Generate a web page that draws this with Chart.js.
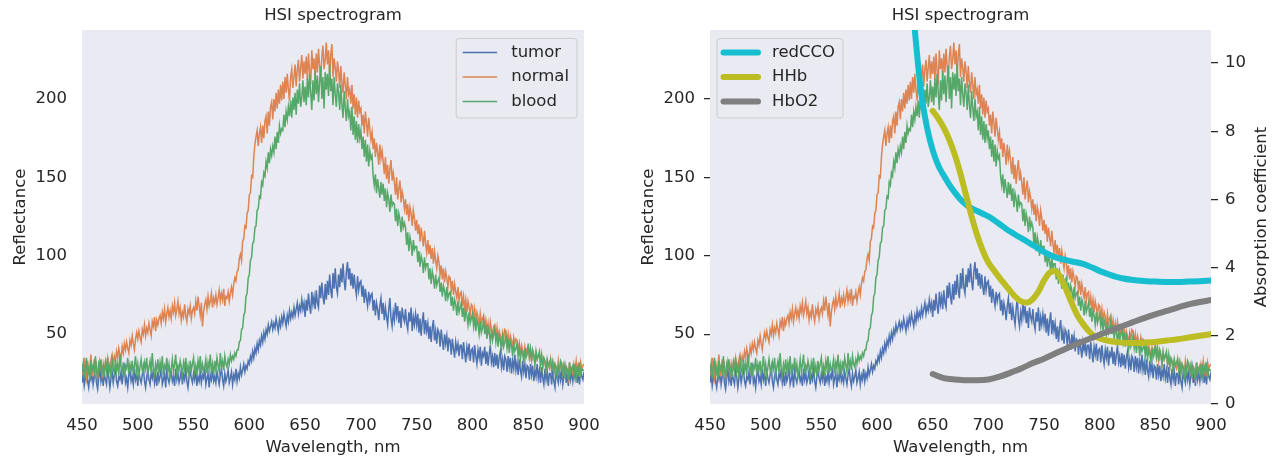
<!DOCTYPE html>
<html>
<head>
<meta charset="utf-8">
<script src="https://cdn.jsdelivr.net/npm/chart.js@4"></script>
<style>
  body { margin: 0; background: #fff; }
  canvas { position: absolute; top: 0; }
  #leftChart { left: 0; }
  #rightChart { left: 628px; }
</style>
</head>
<body>
<canvas id="leftChart" width="620" height="458"></canvas>
<canvas id="rightChart" width="645" height="458"></canvas>
<script>
// spectra sampled every 1 nm, 450..900
const wavelengths = [
  450,451,452,453,454,455,456,457,458,459, 460,461,462,463,464,465,466,467,468,469,
  470,471,472,473,474,475,476,477,478,479, 480,481,482,483,484,485,486,487,488,489,
  490,491,492,493,494,495,496,497,498,499, 500,501,502,503,504,505,506,507,508,509,
  510,511,512,513,514,515,516,517,518,519, 520,521,522,523,524,525,526,527,528,529,
  530,531,532,533,534,535,536,537,538,539, 540,541,542,543,544,545,546,547,548,549,
  550,551,552,553,554,555,556,557,558,559, 560,561,562,563,564,565,566,567,568,569,
  570,571,572,573,574,575,576,577,578,579, 580,581,582,583,584,585,586,587,588,589,
  590,591,592,593,594,595,596,597,598,599, 600,601,602,603,604,605,606,607,608,609,
  610,611,612,613,614,615,616,617,618,619, 620,621,622,623,624,625,626,627,628,629,
  630,631,632,633,634,635,636,637,638,639, 640,641,642,643,644,645,646,647,648,649,
  650,651,652,653,654,655,656,657,658,659, 660,661,662,663,664,665,666,667,668,669,
  670,671,672,673,674,675,676,677,678,679, 680,681,682,683,684,685,686,687,688,689,
  690,691,692,693,694,695,696,697,698,699, 700,701,702,703,704,705,706,707,708,709,
  710,711,712,713,714,715,716,717,718,719, 720,721,722,723,724,725,726,727,728,729,
  730,731,732,733,734,735,736,737,738,739, 740,741,742,743,744,745,746,747,748,749,
  750,751,752,753,754,755,756,757,758,759, 760,761,762,763,764,765,766,767,768,769,
  770,771,772,773,774,775,776,777,778,779, 780,781,782,783,784,785,786,787,788,789,
  790,791,792,793,794,795,796,797,798,799, 800,801,802,803,804,805,806,807,808,809,
  810,811,812,813,814,815,816,817,818,819, 820,821,822,823,824,825,826,827,828,829,
  830,831,832,833,834,835,836,837,838,839, 840,841,842,843,844,845,846,847,848,849,
  850,851,852,853,854,855,856,857,858,859, 860,861,862,863,864,865,866,867,868,869,
  870,871,872,873,874,875,876,877,878,879, 880,881,882,883,884,885,886,887,888,889,
  890,891,892,893,894,895,896,897,898,899,
  900
];

const tumor = [
  19,25,17,22,28,20,16,24,21,27, 18,23,26,19,15,22,29,20,24,17,
  25,21,18,27,23,16,22,26,19,24, 28,20,17,23,21,26,18,25,29,19,
  22,16,24,27,20,23,18,28,21,25, 17,26,22,19,24,29,20,16,23,27,
  21,18,25,22,28,19,24,17,26,20, 23,29,18,21,25,16,27,22,19,24,
  26,20,23,17,28,21,25,19,22,27, 18,24,21,29,20,16,23,26,22,19,
  25,21,28,17,23,20,26,19,24,22, 29,18,22,25,16,24,21,27,20,23,
  19,26,22,18,24,28,21,17,25,20, 23,27,19,22,26,18,24,21,28,20,
  25,22,29,24,27,31,26,30,28,33, 31,36,33,39,35,41,38,44,40,46,
  43,49,45,51,47,53,50,56,52,55, 58,53,57,54,60,56,52,59,55,61,
  57,63,59,55,62,58,65,60,64,61, 67,62,66,70,63,68,65,72,66,70,
  61,72,65,76,68,63,77,69,74,66, 78,70,67,81,73,83,74,69,82,72,
  84,75,88,78,73,89,79,92,80,76, 88,80,92,83,95,84,78,90,96,85,
  92,81,89,79,88,80,75,87,78,83, 84,74,81,70,79,73,68,77,71,75,
  76,65,72,62,70,66,59,68,73,63, 70,59,67,61,56,66,73,60,55,64,
  59,70,62,68,57,65,54,67,61,58, 66,57,53,64,58,67,52,61,56,63,
  56,63,51,60,49,58,64,50,59,52, 57,47,55,45,54,59,46,52,44,53,
  51,42,53,46,40,50,44,49,39,47, 46,37,47,41,35,45,40,44,36,43,
  43,34,45,38,32,42,37,44,33,40, 41,32,43,36,31,40,35,42,30,38,
  36,42,31,39,30,37,43,32,36,29, 38,30,37,28,35,39,29,34,27,36,
  34,26,36,29,35,25,33,28,37,27, 32,24,34,27,23,33,26,31,22,30,
  29,21,31,24,30,20,27,23,31,22, 27,19,29,22,18,28,21,26,17,25,
  25,18,27,20,16,26,22,19,28,21, 26,18,24,29,19,25,17,27,21,26,
  20,27,22,29,19,26,18,28,23,21,
  26
];

const normal = [
  31,24,35,27,22,33,26,29,37,23, 28,34,25,30,22,27,33,29,24,31,
  26,32,29,35,30,27,34,37,31,36, 33,39,35,41,37,34,42,38,44,40,
  45,41,38,46,43,49,44,40,47,51, 47,52,48,45,53,50,56,49,54,51,
  57,53,49,58,55,61,52,59,56,60, 62,57,64,60,66,58,63,67,61,65,
  60,68,64,70,62,66,71,63,67,59, 64,61,69,62,58,66,63,68,60,65,
  67,63,71,65,74,68,62,70,55,64, 69,72,66,74,68,71,76,67,73,70,
  75,69,73,78,71,76,72,79,68,74, 73,77,71,76,80,75,82,86,84,90,
  91,98,101,97,109,111,119,118,127,129, 139,140,151,150,163,171,176,180,170,178,
  182,172,183,175,186,189,178,192,183,195, 198,187,200,192,204,194,206,197,209,199,
  211,200,214,204,216,206,199,214,219,207, 214,222,208,219,225,211,220,228,213,224,
  216,227,212,229,218,209,231,219,226,214, 229,217,232,221,212,227,234,219,225,236,
  222,231,216,228,235,214,226,220,211,224, 218,207,221,210,204,217,209,200,214,203,
  206,197,209,194,203,190,201,188,199,192, 194,183,190,178,192,185,176,188,181,174,
  179,168,175,163,172,166,158,171,162,167, 160,152,163,149,158,146,155,161,148,153,
  147,139,150,136,143,148,134,141,137,130, 136,126,133,122,131,127,119,129,124,116,
  123,114,120,109,118,112,106,116,108,102, 110,101,107,98,105,95,103,97,92,100,
  96,88,94,85,92,83,90,86,80,87, 86,78,84,75,82,77,73,80,71,76,
  77,68,74,66,72,64,71,67,62,69, 68,60,66,58,64,61,55,63,57,60,
  62,54,59,52,57,50,58,53,48,55, 56,48,54,46,52,49,44,51,47,53,
  52,45,50,43,49,46,41,48,44,47, 46,39,44,37,43,40,35,42,38,41,
  42,35,40,33,39,36,31,38,34,37, 37,31,35,29,34,32,27,33,30,28,
  34,28,32,26,31,29,25,33,27,30, 31,25,30,24,29,27,22,32,26,28,
  25,31,27,33,26,30,23,32,28,30,
  31
];

const blood = [
  26,31,22,29,35,24,28,21,33,27, 30,24,36,27,22,31,28,34,25,29,
  23,32,27,35,26,30,22,33,28,25, 34,27,31,24,37,29,26,32,23,30,
  28,35,25,31,27,33,24,30,36,26, 31,23,29,34,27,25,32,28,35,24,
  29,33,26,38,28,24,31,27,34,25, 32,27,36,24,30,28,35,26,31,23,
  28,34,26,31,37,25,30,27,33,29, 24,32,28,35,26,30,23,33,27,31,
  35,26,30,24,33,28,36,25,31,27, 29,34,25,32,28,37,26,31,24,33,
  27,35,30,26,38,29,33,27,36,31, 29,34,31,37,33,36,34,38,36,40,
  40,45,46,53,54,62,64,74,76,86, 88,97,99,108,109,118,119,129,130,138,
  137,147,145,153,151,160,156,166,159,168, 164,170,166,176,168,179,172,183,178,181,
  180,190,182,192,187,195,189,199,188,201, 193,204,190,206,197,210,195,201,212,198,
  208,196,213,201,216,204,193,212,199,218, 203,215,198,211,221,200,214,194,217,206,
  216,202,222,205,213,196,214,203,195,210, 204,193,209,196,188,205,194,186,200,189,
  192,180,195,177,189,174,186,172,184,175, 180,168,176,163,174,160,171,157,167,162,
  164,151,145,152,140,149,143,137,147,139, 146,135,143,131,140,136,128,139,132,134,
  133,122,130,119,127,123,115,125,118,121, 118,107,115,103,112,108,100,110,104,106,
  106,96,103,93,100,97,89,99,92,95, 95,85,92,82,90,86,79,88,81,84,
  86,77,83,74,81,78,71,80,73,76, 77,68,74,65,72,69,62,71,64,67,
  70,61,67,58,65,62,56,64,57,60, 63,55,61,52,59,56,50,58,51,54,
  59,50,56,47,54,51,45,53,46,50, 53,45,51,42,49,46,40,48,42,45,
  49,41,47,38,45,43,36,44,39,41, 44,36,42,34,40,38,32,41,35,37,
  44,36,41,33,40,37,31,39,34,36, 39,31,37,29,35,33,27,34,30,32,
  34,27,32,25,31,29,23,30,26,33, 31,25,30,22,29,27,21,32,25,28,
  30,24,31,23,29,26,32,22,28,27,
  27
];

// absorption spectra (right axis)
const redCcoWl = [625,630,635,640,645,650,655,660,665,670,675,680,685,690,695,700,705,710,715,720,
  725,730,735,740,745,750,755,760,765,770,775,780,785,790,795,800,805,810,815,820,830,840,850,860,870,880,890,900];
const redCco = [15.2,12.6,10.6,9.05,8.1,7.45,7.0,6.7,6.43,6.2,6.0,5.85,5.74,5.66,5.58,5.5,5.4,5.28,5.16,5.05,
  4.95,4.86,4.76,4.66,4.56,4.46,4.38,4.31,4.26,4.22,4.18,4.15,4.11,4.05,3.98,3.9,3.84,3.78,3.73,3.69,3.64,3.61,3.59,3.58,3.58,3.59,3.6,3.62];

const hhbWl = [650,655,660,665,670,675,680,685,690,695,700,705,710,715,720,725,730,735,740,745,750,755,760,
  765,770,775,780,785,790,795,800,810,820,830,840,850,860,870,880,890,900];
const hhb = [8.6,8.38,8.1,7.75,7.3,6.75,6.12,5.5,4.95,4.5,4.15,3.92,3.7,3.5,3.3,3.12,3.0,2.98,3.08,3.3,3.62,3.85,3.9,
  3.7,3.35,2.95,2.6,2.35,2.15,2.0,1.92,1.84,1.8,1.79,1.8,1.82,1.86,1.9,1.95,2.0,2.05];

const hbo2Wl = [650,660,670,680,690,700,710,720,730,740,750,760,770,780,790,800,810,820,830,840,850,860,870,880,890,900];
const hbo2 = [0.88,0.76,0.72,0.7,0.7,0.72,0.8,0.92,1.05,1.2,1.33,1.48,1.63,1.77,1.9,2.03,2.16,2.28,2.4,2.52,2.63,2.73,2.83,2.92,2.99,3.05];

const xTicks = [450,500,550,600,650,700,750,800,850,900];
const reflectanceTicks = [50,100,150,200];
const absorptionTicks = [0,2,4,6,8,10];

const textColor = "#262626";
const fontFamily = '"DejaVu Sans", sans-serif';
const fontSize = 16.5;

Chart.defaults.font.family = fontFamily;
Chart.defaults.font.size = fontSize;
Chart.defaults.color = textColor;

function points(xs, ys) {
  return ys.map((y, i) => ({ x: xs[i], y: y }));
}

function fixedTicks(values) {
  return (scale) => {
    scale.ticks = values.map((v) => ({ value: v }));
  };
}

const plotBackground = {
  id: "plotBackground",
  beforeDraw(chart) {
    const { ctx, chartArea: a } = chart;
    ctx.save();
    ctx.fillStyle = "#eaeaf2";
    ctx.fillRect(a.left, a.top, a.right - a.left, a.bottom - a.top);
    ctx.restore();
  }
};

const boxLegend = {
  id: "boxLegend",
  afterDatasetsDraw(chart, args, opts) {
    const { ctx, chartArea: a } = chart;
    const items = chart.data.datasets.filter((d) => d.inLegend);
    ctx.save();
    ctx.font = fontSize + "px " + fontFamily;
    const textW = Math.max(...items.map((d) => ctx.measureText(d.label).width));
    const w = 55 + textW + 8;
    const h = 79.5;
    const x = opts.side === "right" ? a.right - 7 - w : a.left + 7;
    const y = a.top + 8.5;
    ctx.beginPath();
    ctx.roundRect(x, y, w, h, 3);
    ctx.fillStyle = "rgba(234,234,242,0.8)";
    ctx.fill();
    ctx.strokeStyle = "#cccccc";
    ctx.lineWidth = 1;
    ctx.stroke();
    items.forEach((d, i) => {
      const cy = y + 14 + i * 24.5;
      ctx.beginPath();
      ctx.moveTo(x + 6.5, cy);
      ctx.lineTo(x + 41, cy);
      ctx.strokeStyle = d.borderColor;
      ctx.lineWidth = d.borderWidth;
      ctx.lineCap = d.borderCapStyle || "butt";
      ctx.stroke();
      ctx.fillStyle = textColor;
      ctx.textBaseline = "middle";
      ctx.textAlign = "left";
      ctx.fillText(d.label, x + 55, cy);
    });
    ctx.restore();
  }
};

const rightTitle = {
  id: "rightTitle",
  afterDraw(chart, args, opts) {
    if (!opts.text) return;
    const { ctx, chartArea: a } = chart;
    ctx.save();
    ctx.translate(chart.width - 11, (a.top + a.bottom) / 2);
    ctx.rotate(-Math.PI / 2);
    ctx.font = fontSize + "px " + fontFamily;
    ctx.fillStyle = textColor;
    ctx.textAlign = "center";
    ctx.textBaseline = "middle";
    ctx.fillText(opts.text, 0, 0);
    ctx.restore();
  }
};

function spectrumDatasets(inLegend) {
  return [
    { label: "tumor", data: points(wavelengths, tumor), borderColor: "#4c72b0", order: 3 },
    { label: "normal", data: points(wavelengths, normal), borderColor: "#dd8452", order: 2 },
    { label: "blood", data: points(wavelengths, blood), borderColor: "#55a868", order: 1 }
  ].map((d) => ({ ...d, borderWidth: 1.5, pointRadius: 0, tension: 0, clip: 0, inLegend }));
}

function xScale() {
  return {
    type: "linear",
    min: 450,
    max: 900,
    afterBuildTicks: fixedTicks(xTicks),
    afterFit: (s) => { s.height = 54; },
    grid: { display: false, drawTicks: false },
    border: { display: false },
    ticks: { padding: 12, autoSkip: false, maxRotation: 0 },
    title: { display: true, text: "Wavelength, nm", padding: { top: 0, bottom: 0 } }
  };
}

function reflectanceScale(withTickMarks) {
  return {
    type: "linear",
    position: "left",
    min: 5.5,
    max: 244,
    afterBuildTicks: fixedTicks(reflectanceTicks),
    afterFit: (s) => { s.width = 82; },
    grid: withTickMarks
      ? { display: true, drawOnChartArea: false, drawTicks: true, tickLength: 6, color: textColor, lineWidth: 1.25 }
      : { display: false, drawTicks: false },
    border: { display: false },
    ticks: { padding: withTickMarks ? 9 : 15 },
    title: { display: true, text: "Reflectance", padding: { top: 11, bottom: 0 } }
  };
}

function baseOptions() {
  return {
    responsive: false,
    animation: false,
    events: [],
    devicePixelRatio: 1,
    elements: { point: { radius: 0 } }
  };
}

function titleOptions() {
  return {
    display: true,
    text: "HSI spectrogram",
    fullSize: false,
    color: textColor,
    font: { size: fontSize, weight: "normal" },
    padding: { top: 6, bottom: 4.2 }
  };
}

new Chart(document.getElementById("leftChart"), {
  type: "line",
  data: { datasets: spectrumDatasets(true) },
  options: {
    ...baseOptions(),
    layout: { padding: { left: 0, right: 36, top: 0, bottom: 0 } },
    plugins: {
      legend: { display: false },
      tooltip: { enabled: false },
      title: titleOptions(),
      boxLegend: { side: "right" }
    },
    scales: {
      x: xScale(),
      y: reflectanceScale(false)
    }
  },
  plugins: [plotBackground, boxLegend]
});

const absorptionDatasets = [
  { label: "redCCO", data: points(redCcoWl, redCco), borderColor: "#17becf", order: -1 },
  { label: "HHb", data: points(hhbWl, hhb), borderColor: "#bcbd22", order: -2 },
  { label: "HbO2", data: points(hbo2Wl, hbo2), borderColor: "#7f7f7f", order: -3 }
].map((d) => ({
  ...d,
  yAxisID: "y2",
  borderWidth: 6,
  borderCapStyle: "round",
  borderJoinStyle: "round",
  cubicInterpolationMode: "monotone",
  pointRadius: 0,
  clip: 0,
  inLegend: true
}));

new Chart(document.getElementById("rightChart"), {
  type: "line",
  data: { datasets: [...spectrumDatasets(false), ...absorptionDatasets] },
  options: {
    ...baseOptions(),
    layout: { padding: { left: 0, right: 0, top: 0, bottom: 0 } },
    plugins: {
      legend: { display: false },
      tooltip: { enabled: false },
      title: titleOptions(),
      boxLegend: { side: "left" },
      rightTitle: { text: "Absorption coefficient" }
    },
    scales: {
      x: xScale(),
      y: reflectanceScale(true),
      y2: {
        type: "linear",
        position: "right",
        min: 0,
        max: 10.97,
        afterBuildTicks: fixedTicks(absorptionTicks),
        afterFit: (s) => { s.width = 62; },
        grid: { display: true, drawOnChartArea: false, drawTicks: true, tickLength: 7, color: textColor, lineWidth: 1.25 },
        border: { display: false },
        ticks: { padding: 7 }
      }
    }
  },
  plugins: [plotBackground, boxLegend, rightTitle]
});
</script>
</body>
</html>
